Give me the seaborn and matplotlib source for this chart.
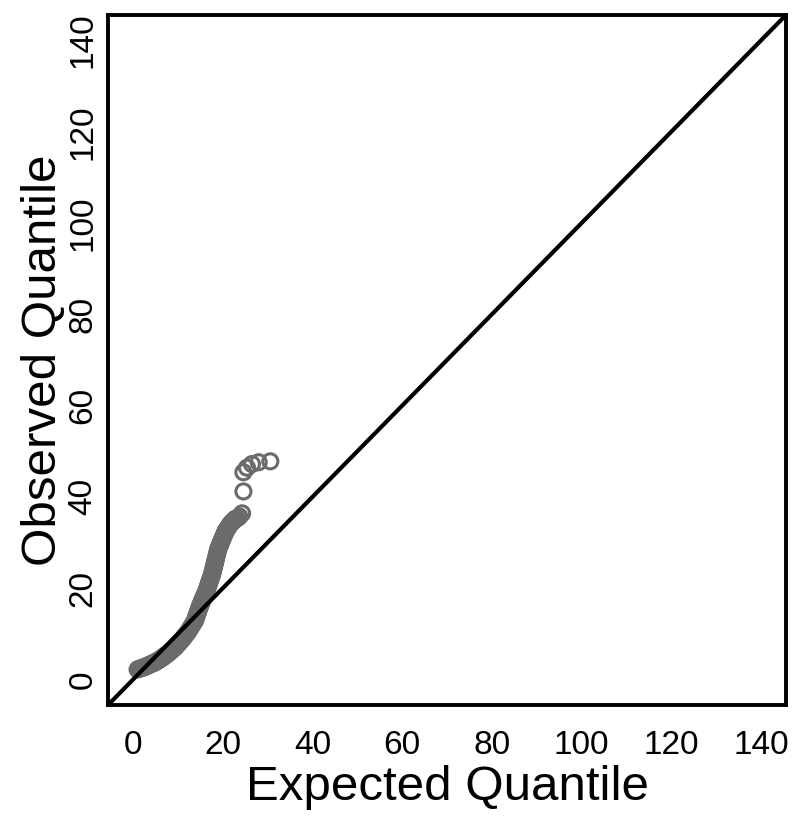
import matplotlib
matplotlib.use("Agg")
import matplotlib.pyplot as plt
import seaborn as sns
import pandas as pd

# ---- data (expected vs observed quantiles) ----
expected = [
    1.0, 1.3, 1.6, 1.9, 2.2, 2.5, 2.8, 3.1, 3.4, 3.7, 4.0, 4.3, 4.6, 4.9, 5.2,
    5.5, 5.8, 6.1, 6.4, 6.7, 7.0, 7.3, 7.6, 7.9, 8.2, 8.5, 8.8, 9.1, 9.4, 9.7,
    10.0, 10.3, 10.6, 10.9, 11.2, 11.5, 11.8, 12.1, 12.4, 12.7, 13.0, 13.3,
    13.6, 13.8,
    13.92, 14.04, 14.16, 14.28, 14.41, 14.53, 14.65,
    14.78, 14.92, 15.06, 15.2, 15.34, 15.48,
    15.64, 15.79, 15.95, 16.11, 16.27, 16.4,
    16.52, 16.63, 16.75, 16.87, 16.98,
    17.11, 17.23, 17.35, 17.48, 17.6,
    17.69, 17.78, 17.86, 17.95, 18.04, 18.13, 18.21, 18.3, 18.39,
    18.48, 18.56, 18.65, 18.74, 18.82, 18.91, 19.0,
    19.15, 19.29, 19.44, 19.58, 19.73, 19.87, 20.0,
    20.15, 20.31, 20.46, 20.61, 20.7,
    20.95, 21.2, 21.45, 21.7, 21.8,
    22.05, 22.3, 22.55, 22.8,
    23.2, 23.7, 24.3,
    24.6, 24.6, 25.4, 26.5, 28.0, 30.6,
]
observed = [
    2.20, 2.30, 2.41, 2.51, 2.62, 2.72, 2.83, 2.94, 3.12, 3.24, 3.38, 3.50, 3.62,
    3.76, 3.94, 4.12, 4.30, 4.48, 4.67, 4.89, 5.11, 5.33, 5.55, 5.78, 6.04,
    6.30, 6.56, 6.82, 7.10, 7.42, 7.75, 8.07, 8.39, 8.73, 9.11, 9.49, 9.87,
    10.25, 10.65, 11.13, 11.62, 12.10, 12.58, 12.90,
    13.25, 13.6, 13.95, 14.3, 14.65, 15.0, 15.35,
    15.7, 16.05, 16.4, 16.75, 17.1, 17.45,
    17.8, 18.15, 18.5, 18.85, 19.2, 19.5,
    19.85, 20.2, 20.55, 20.9, 21.25,
    21.6, 21.95, 22.3, 22.65, 23.0,
    23.35, 23.7, 24.05, 24.4, 24.75, 25.1, 25.45, 25.8, 26.15,
    26.5, 26.85, 27.2, 27.55, 27.9, 28.25, 28.6,
    28.95, 29.3, 29.65, 30.0, 30.35, 30.7, 31.0,
    31.35, 31.7, 32.05, 32.4, 32.6,
    32.96, 33.33, 33.69, 34.05, 34.2,
    34.45, 34.7, 34.95, 35.2,
    35.3, 35.7, 36.4,
    41.2, 45.4, 46.4, 47.2, 47.6, 47.8,
]
tick_values = [0, 20, 40, 60, 80, 100, 120, 140]
x_label = "Expected Quantile"
y_label = "Observed Quantile"
axis_limits = (-5.6, 145.6)

df = pd.DataFrame({"expected": expected, "observed": observed})

sns.set_style("white")
plt.rcParams["font.family"] = ["Liberation Sans", "DejaVu Sans"]
plt.rcParams["text.color"] = "black"
plt.rcParams["axes.labelcolor"] = "black"
plt.rcParams["xtick.color"] = "black"
plt.rcParams["ytick.color"] = "black"

fig = plt.figure(figsize=(8.0, 8.24), dpi=100)
ax = fig.add_axes([0.135, 0.1444, 0.8475, 0.8374])

sns.scatterplot(data=df, x="expected", y="observed", ax=ax,
                marker="o", s=118, linewidth=2.2,
                facecolors="none", edgecolor="#6b6b6b", zorder=2)
ax.collections[-1].set_facecolor("none")
ax.collections[-1].set_edgecolor("#6b6b6b")

ax.axline((0, 0), slope=1, color="black", linewidth=3.0, zorder=3)

ax.set_xlim(*axis_limits)
ax.set_ylim(*axis_limits)
ax.set_xticks(tick_values)
ax.set_yticks(tick_values)

tick_font = {"family": ["Liberation Sans"], "size": 24}
ax.set_xticklabels([str(v) for v in tick_values], fontdict=tick_font)
ax.set_yticklabels([str(v) for v in tick_values], fontdict=tick_font,
                   rotation=90, va="center")

ax.tick_params(axis="both", direction="out", length=6, width=1.8,
               color="black")
ax.tick_params(axis="x", pad=12)
ax.tick_params(axis="y", pad=1)

for sp in ax.spines.values():
    sp.set_visible(True)
    sp.set_linewidth(2.8)
    sp.set_color("black")

ax.set_xlabel(x_label, fontsize=35.5, labelpad=3)
ax.set_ylabel(y_label, fontsize=35.5, labelpad=1)

fig.savefig("out.png", dpi=100)
